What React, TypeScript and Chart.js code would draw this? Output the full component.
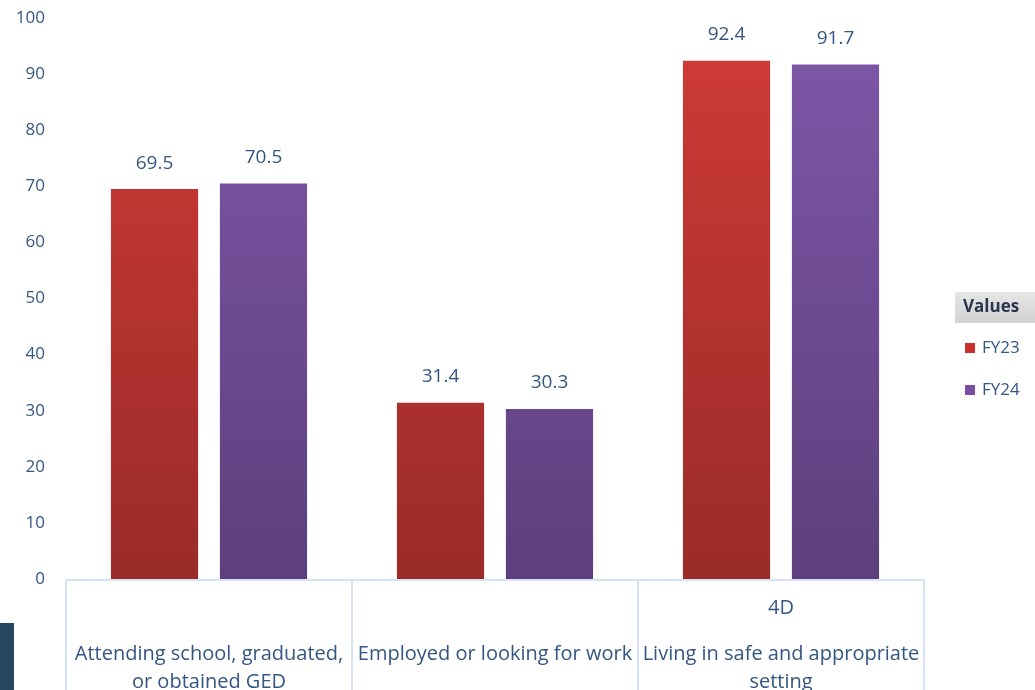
import React, { useEffect, useRef } from "react";
import { Chart, registerables } from "chart.js";

Chart.register(...registerables);

const categories = [
  "Attending school, graduated,\nor obtained GED",
  "Employed or looking for work",
  "Living in safe and appropriate\nsetting",
];
const outerLabels = ["", "", "4D"];
const seriesNames = ["FY23", "FY24"];
const fy23 = [69.5, 31.4, 92.4];
const fy24 = [70.5, 30.3, 91.7];
const yTicks = [0, 10, 20, 30, 40, 50, 60, 70, 80, 90, 100];

const TEXT = "#345683";
const FONT = "'Open Sans', Lato, sans-serif";

function gradient(chart: any, top: string, bottom: string) {
  const { ctx, chartArea } = chart;
  if (!chartArea) return top;
  const g = ctx.createLinearGradient(0, chartArea.top, 0, chartArea.bottom);
  g.addColorStop(0, top);
  g.addColorStop(1, bottom);
  return g;
}

const decorPlugin = {
  id: "decor",
  afterDatasetsDraw(chart: any) {
    const { ctx, chartArea, scales } = chart;
    const x = scales.x;
    ctx.save();
    // value labels
    ctx.font = `19px ${FONT}`;
    ctx.fillStyle = TEXT;
    ctx.textAlign = "center";
    ctx.textBaseline = "middle";
    chart.data.datasets.forEach((ds: any, di: number) => {
      const meta = chart.getDatasetMeta(di);
      meta.data.forEach((bar: any, i: number) => {
        ctx.fillText(String(ds.data[i]), bar.x, bar.y - 26);
      });
    });
    // category boxes
    const n = categories.length;
    const step = (chartArea.right - chartArea.left) / n;
    ctx.strokeStyle = "#d6e3f5";
    ctx.lineWidth = 2;
    ctx.beginPath();
    ctx.moveTo(chartArea.left, chartArea.bottom + 1);
    ctx.lineTo(chartArea.right, chartArea.bottom + 1);
    for (let i = 0; i <= n; i++) {
      const px = chartArea.left + step * i;
      ctx.moveTo(px, chartArea.bottom);
      ctx.lineTo(px, chart.height + 5);
    }
    ctx.stroke();
    ctx.fillStyle = TEXT;
    ctx.font = `20px ${FONT}`;
    categories.forEach((c, i) => {
      const cx = x.getPixelForValue(i);
      const lines = c.split("\n");
      lines.forEach((ln, li) => {
        ctx.fillText(ln, cx, chartArea.bottom + 75 + li * 28);
      });
      if (outerLabels[i]) ctx.fillText(outerLabels[i], cx, chartArea.bottom + 29);
    });
    // legend
    const lx = 955;
    const ly = 292;
    const bg = ctx.createLinearGradient(0, ly, 0, ly + 31);
    bg.addColorStop(0, "#e6e6e6");
    bg.addColorStop(1, "#d2d2d2");
    ctx.fillStyle = bg;
    ctx.fillRect(lx, ly, 82, 31);
    ctx.fillStyle = "#2a3550";
    ctx.font = `bold 17px ${FONT}`;
    ctx.textAlign = "left";
    ctx.fillText("Values", lx + 8, ly + 15);
    ctx.font = `17px ${FONT}`;
    chart.data.datasets.forEach((ds: any, di: number) => {
      const y = 348 + di * 42;
      ctx.fillStyle = ds.legendColor;
      ctx.fillRect(965, y - 5, 10, 10);
      ctx.fillStyle = TEXT;
      ctx.fillText(ds.label, 982, y);
    });
    ctx.restore();
  },
};

export default function App() {
  const ref = useRef<HTMLCanvasElement>(null);
  useEffect(() => {
    document.body.style.margin = "0";
    const chart = new Chart(ref.current!, {
      type: "bar",
      data: {
        labels: categories,
        datasets: [
          {
            label: seriesNames[0],
            data: fy23,
            legendColor: "#c9302c",
            backgroundColor: (c: any) => gradient(c.chart, "#d03b37", "#9a2b29"),
            categoryPercentage: 0.762,
            barPercentage: 0.8,
          } as any,
          {
            label: seriesNames[1],
            data: fy24,
            legendColor: "#7a4fa3",
            backgroundColor: (c: any) => gradient(c.chart, "#7f58a9", "#5c3f7c"),
            categoryPercentage: 0.762,
            barPercentage: 0.8,
          } as any,
        ],
      },
      options: {
        animation: false,
        responsive: false,
        maintainAspectRatio: false,
        layout: { padding: { left: 0, right: 111, top: 18, bottom: 111 } },
        plugins: { legend: { display: false }, tooltip: { enabled: false } },
        scales: {
          x: {
            grid: { display: false, drawTicks: false },
            border: { display: false },
            ticks: { display: false },
            afterFit: (s: any) => {
              s.height = 0;
              s.paddingLeft = 0;
              s.paddingRight = 0;
            },
          },
          y: {
            min: 0,
            max: 100,
            afterBuildTicks: (s: any) => {
              s.ticks = yTicks.map((v) => ({ value: v }));
            },
            afterFit: (s: any) => {
              s.width = 66;
              s.paddingTop = 0;
              s.paddingBottom = 0;
            },
            grid: { display: false, drawTicks: false },
            border: { display: false },
            ticks: {
              padding: 21,
              color: TEXT,
              font: { family: FONT, size: 17 },
            },
          },
        },
      },
      plugins: [decorPlugin],
    });
    return () => chart.destroy();
  }, []);
  return (
    <div style={{ position: "relative", width: 1035, height: 690, overflow: "hidden", background: "#fff" }}>
      <canvas ref={ref} width={1035} height={690} style={{ display: "block" }} />
      <div style={{ position: "absolute", left: 0, top: 623, width: 14, height: 67, background: "#24465e" }} />
    </div>
  );
}
